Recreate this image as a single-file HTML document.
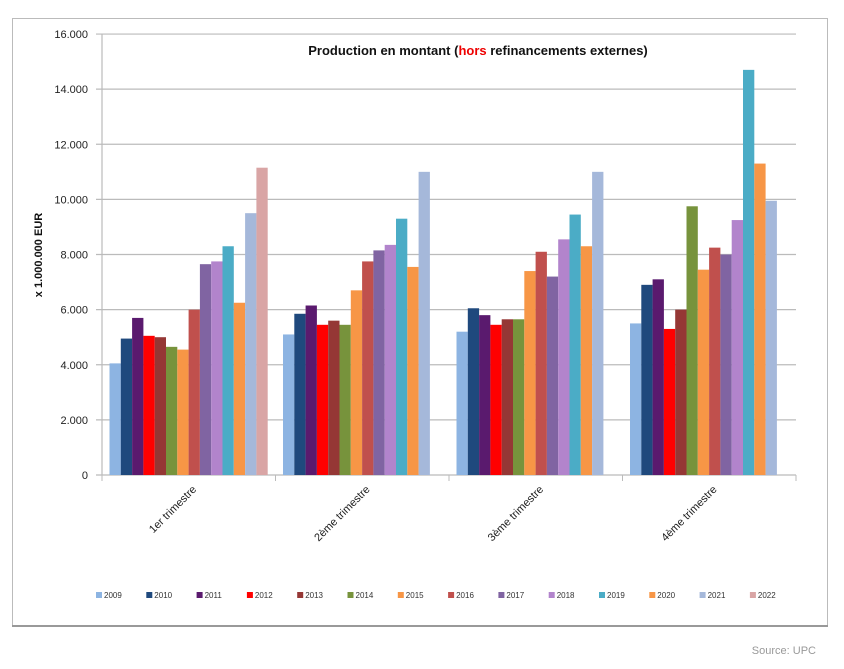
<!DOCTYPE html><html><head><style>body{margin:0;background:#fff}</style></head><body>
<svg width="844" height="664" xmlns="http://www.w3.org/2000/svg" font-family="Liberation Sans, sans-serif">
<rect x="12.5" y="18.5" width="815" height="608" fill="#fff" stroke="#bbb"/>
<line x1="12" y1="626" x2="828" y2="626" stroke="#999" stroke-width="2"/>
<g id="g"></g>
<text x="816" y="654" font-size="11" fill="#999" text-anchor="end">Source: UPC</text>
</svg>
<script>
const NS="http://www.w3.org/2000/svg",g=document.getElementById('g');
function el(t,a,txt){const e=document.createElementNS(NS,t);for(const k in a)e.setAttribute(k,a[k]);if(txt)e.textContent=txt;g.appendChild(e);return e;}
const x0=102,x1=796,y0=475,pp=27.56/1000*1000;
for(let i=0;i<=8;i++){const y=y0-i*2*27.56;el('line',{x1:x0-6,x2:x1,y1:y,y2:y,stroke:'#bbb','stroke-width':1.2});
el('text',{x:88,y:y+4,'font-size':11,'text-anchor':'end',fill:'#222'},i==0?'0':(i*2)+'.000');}
el('line',{x1:x0,x2:x0,y1:34,y2:y0,stroke:'#bbb','stroke-width':1.2});
for(let i=0;i<=4;i++){const x=x0+i*173.5;el('line',{x1:x,x2:x,y1:y0,y2:y0+6,stroke:'#bbb'});}
const cols=['#8DB4E2','#1F497D','#5A1A6E','#FF0000','#953735','#77933C','#F79646','#C0504D','#8064A2','#B284CC','#4BACC6','#F79646','#A5B8DA','#D9A5A5'];
const yrs=['2009','2010','2011','2012','2013','2014','2015','2016','2017','2018','2019','2020','2021','2022'];
const d=[[4.05,4.95,5.7,5.05,5.0,4.65,4.55,6.0,7.65,7.75,8.3,6.25,9.5,11.15],
[5.1,5.85,6.15,5.45,5.6,5.45,6.7,7.75,8.15,8.35,9.3,7.55,11.0,0],
[5.2,6.05,5.8,5.45,5.65,5.65,7.4,8.1,7.2,8.55,9.45,8.3,11.0,0],
[5.5,6.9,7.1,5.3,6.0,9.75,7.45,8.25,8.0,9.25,14.7,11.3,9.95,0]];
const labs=['1er trimestre','2ème trimestre','3ème trimestre','4ème trimestre'];
d.forEach((s,q)=>{const gx=x0+q*173.5+7.5;s.forEach((v,i)=>{if(!v)return;const h=v*27.56;
el('rect',{x:gx+i*11.3,y:y0-h,width:11.3,height:h,fill:cols[i]});});
const cx=x0+q*173.5+95;el('text',{x:cx,y:490,'font-size':11,fill:'#222','text-anchor':'end',transform:`rotate(-45 ${cx} 490)`},labs[q]);});
el('text',{x:478,y:55,'font-size':13,'font-weight':'bold','text-anchor':'middle',fill:'#111'}).innerHTML='Production en montant (<tspan fill="#e00">hors</tspan> refinancements externes)';
el('text',{x:42,y:255,'font-size':11,'font-weight':'bold','text-anchor':'middle',fill:'#111',transform:'rotate(-90 42 255)'},'x 1.000.000  EUR');
yrs.forEach((y,i)=>{const x=96+i*50.3;el('rect',{x:x,y:592,width:6,height:6,fill:cols[i]});el('text',{x:x+8,y:598,'font-size':8,fill:'#333'},y);});
</script></body></html>
